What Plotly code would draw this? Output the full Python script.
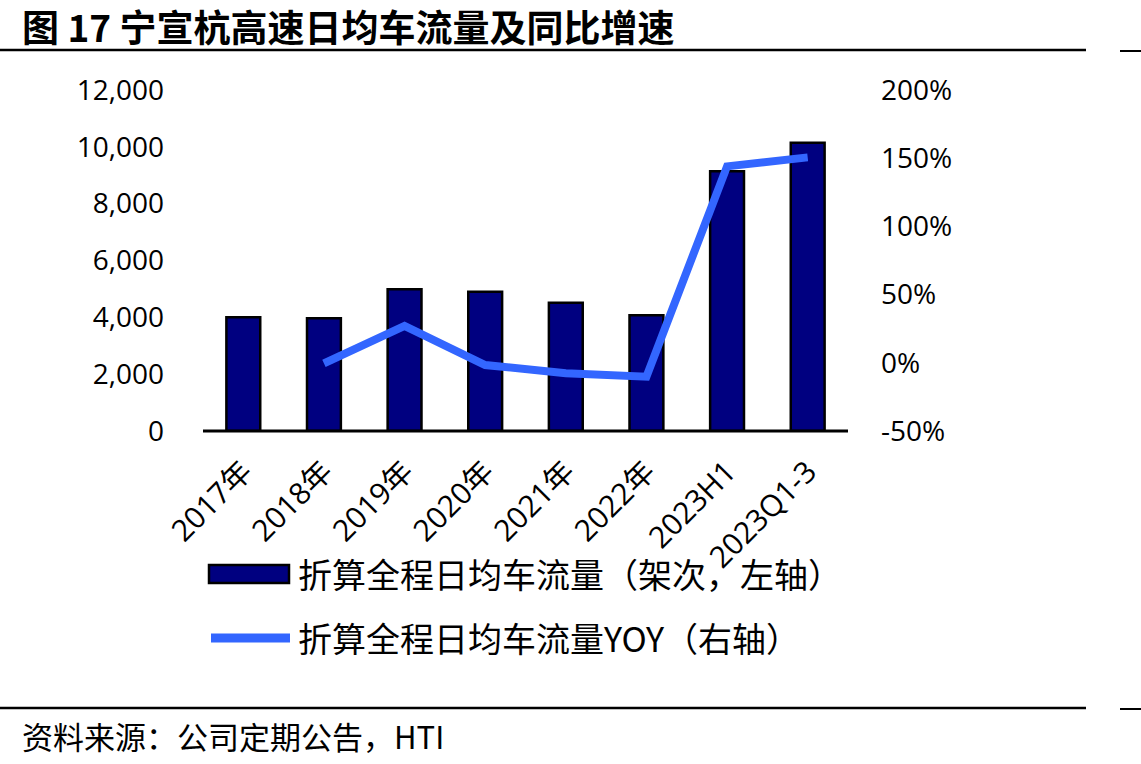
import plotly.graph_objects as go

categories = ["2017年", "2018年", "2019年", "2020年", "2021年", "2022年", "2023H1", "2023Q1-3"]
traffic = [4000, 3965, 4985, 4900, 4515, 4070, 9140, 10145]
yoy = [None, -0.4, 27, -1.6, -7.7, -10.2, 144, 150.6]
left_ticks = [0, 2000, 4000, 6000, 8000, 10000, 12000]
right_ticks = [-50, 0, 50, 100, 150, 200]
right_labels = ["-50%", "0%", "50%", "100%", "150%", "200%"]

W, H = 1141, 764
L, R, T, B = 203, 848, 90, 431
FONT = "Open Sans, Noto Sans CJK SC, sans-serif"
CJK = "Noto Sans CJK SC, Open Sans, sans-serif"
NAVY = "#000080"
BLUE = "#3366FF"


def px(x):
    return (x - L) / (R - L)


def py(y):
    return (B - y) / (B - T)


fig = go.Figure()
fig.add_trace(go.Bar(
    x=categories, y=traffic, width=0.42,
    marker=dict(color=NAVY, line=dict(color="black", width=2.5)),
    name="折算全程日均车流量（架次，左轴）", showlegend=False,
))
fig.add_trace(go.Scatter(
    x=categories, y=yoy, yaxis="y2", mode="lines",
    line=dict(color=BLUE, width=8),
    name="折算全程日均车流量YOY（右轴）", showlegend=False,
))

shapes = []
shapes.append(dict(type="line", xref="paper", yref="paper", x0=0, x1=1, y0=0, y1=0,
                   line=dict(color="black", width=3)))
for yy, x_end, x2s in [(50, 1086, 1120), (708, 1086, 1120)]:
    shapes.append(dict(type="line", xref="paper", yref="paper", x0=px(0), x1=px(x_end),
                       y0=py(yy), y1=py(yy), line=dict(color="black", width=2.5)))
    shapes.append(dict(type="line", xref="paper", yref="paper", x0=px(x2s), x1=px(1141),
                       y0=py(yy + 1), y1=py(yy + 1), line=dict(color="black", width=2)))
shapes.append(dict(type="rect", xref="paper", yref="paper", x0=px(209), x1=px(289),
                   y0=py(583), y1=py(565), fillcolor=NAVY, line=dict(color="black", width=2.5)))
shapes.append(dict(type="line", xref="paper", yref="paper", x0=px(211), x1=px(290),
                   y0=py(638), y1=py(638), line=dict(color=BLUE, width=9)))

annotations = [
    dict(text="<b>图 17 宁宣杭高速日均车流量及同比增速</b>", xref="paper", yref="paper",
         x=px(20), y=py(26), xanchor="left", yanchor="middle", showarrow=False,
         font=dict(family=CJK, size=37, color="black")),
    dict(text="折算全程日均车流量（架次，左轴）", xref="paper", yref="paper",
         x=px(296), y=py(573), xanchor="left", yanchor="middle", showarrow=False,
         font=dict(family=CJK, size=34, color="black")),
    dict(text="折算全程日均车流量YOY（右轴）", xref="paper", yref="paper",
         x=px(296), y=py(637), xanchor="left", yanchor="middle", showarrow=False,
         font=dict(family=CJK, size=34, color="black")),
    dict(text="资料来源：公司定期公告，HTI", xref="paper", yref="paper",
         x=px(20), y=py(735), xanchor="left", yanchor="middle", showarrow=False,
         font=dict(family=CJK, size=31, color="black")),
]

fig.update_layout(
    width=W, height=H,
    margin=dict(l=L, r=W - R, t=T, b=H - B, pad=0),
    paper_bgcolor="white", plot_bgcolor="white",
    font=dict(family=FONT, size=28, color="black"),
    bargap=0.5,
    xaxis=dict(type="category", range=[-0.5, 7.5], tickangle=-45, showgrid=False,
               showline=False, ticks="", ticklabelstandoff=16,
               tickfont=dict(family=FONT, size=30)),
    yaxis=dict(range=[0, 12000], tickvals=left_ticks, tickformat=",d", showgrid=False,
               zeroline=False, showline=False, ticks="", ticklabelstandoff=38,
               tickfont=dict(family=FONT, size=28)),
    yaxis2=dict(range=[-50, 200], tickvals=right_ticks, ticktext=right_labels,
                overlaying="y", side="right", showgrid=False, zeroline=False,
                showline=False, ticks="", ticklabelstandoff=32,
                tickfont=dict(family=FONT, size=28)),
    shapes=shapes, annotations=annotations, showlegend=False,
)

fig.write_html("out.html")
